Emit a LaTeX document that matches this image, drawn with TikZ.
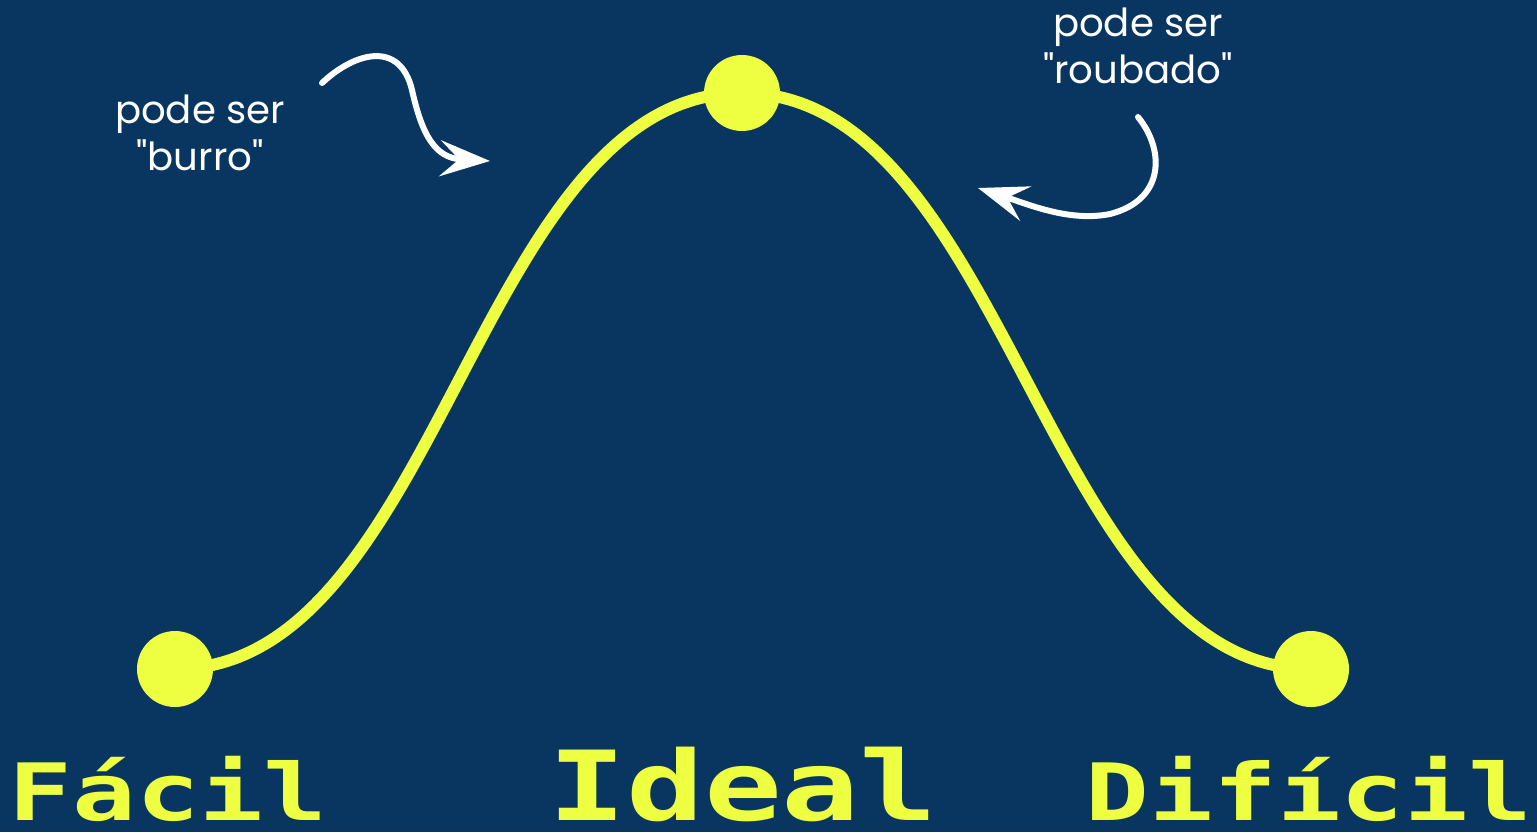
\documentclass[tikz,border=0pt]{standalone}
\usepackage{fontspec}
\usepackage{graphicx}
\usepackage{tikz}
\usetikzlibrary{arrows.meta, backgrounds}
\newfontfamily\pixelfont{DejaVu Sans Mono}[BoldFont={DejaVu Sans Mono Bold}]
\newfontfamily\handfont{Poppins}
\definecolor{bgblue}{RGB}{9,54,97}
\definecolor{hiyellow}{RGB}{238,255,65}
\tikzset{
  dot/.style={circle, fill=hiyellow, inner sep=0pt, minimum size=1.52cm},
  levellabel/.style={anchor=base, inner sep=0pt, text=hiyellow, font=\pixelfont\bfseries},
  note/.style={align=center, text=white, inner sep=0pt, font=\handfont\fontsize{22}{27}\selectfont},
  curve/.style={line width=0.24cm, hiyellow},
  notearrow/.style={line width=0.12cm, white, line cap=round,
                    -{Stealth[length=1cm, width=0.72cm, inset=0.38cm]}}
}
\begin{document}
\begin{tikzpicture}[x=0.02cm, y=-0.02cm]

\useasboundingbox (0,0) rectangle (1537,832);

% --- Dot positions ---
\def\ylow{669}
\def\ytop{93}

% --- Dots ---
\node[dot] (facil)   at (175,\ylow) {};
\node[dot] (ideal)   at (742,\ytop) {};
\node[dot] (dificil) at (1311,\ylow) {};

% --- Background and bell curve (behind the dots) ---
\begin{scope}[on background layer]
  \fill[bgblue] (0,0) rectangle (1537,832);
  \draw[curve] (facil.center) .. controls +(265,0) and +(-265,0) .. (ideal.center)
                              .. controls +(265,0) and +(-265,0) .. (dificil.center);
\end{scope}

% --- Level labels (bottom) ---
\node[levellabel, font=\pixelfont\bfseries\fontsize{45}{45}\selectfont] (lblFacil) at (168,820)
  {\scalebox{1.34}[1]{Fácil}};
\node[levellabel, font=\pixelfont\bfseries\fontsize{55}{55}\selectfont] (lblIdeal) at (743,820)
  {\scalebox{1.34}[1]{Ideal}};
\node[levellabel, font=\pixelfont\bfseries\fontsize{45}{45}\selectfont] (lblDificil) at (1309,820)
  {\scalebox{1.34}[1]{Difícil}};

% --- Notes ---
\node[note] (burro)   at (200,133) {pode ser\\"burro"};
\node[note] (roubado) at (1138,46) {pode ser\\"roubado"};

% --- Note arrows ---
\coordinate (burroFrom)   at (322,83);
\coordinate (burroTo)     at (490,161);
\coordinate (roubadoFrom) at (1138,117);
\coordinate (roubadoTo)   at (978,188);

\draw[notearrow] (burroFrom) .. controls (355,52) and (400,40) .. (412,90)
                             .. controls (422,135) and (435,158) .. (burroTo);
\draw[notearrow] (roubadoFrom) .. controls (1165,150) and (1165,200) .. (1110,214)
                               .. controls (1070,222) and (1030,205) .. (roubadoTo);

\end{tikzpicture}
\end{document}
